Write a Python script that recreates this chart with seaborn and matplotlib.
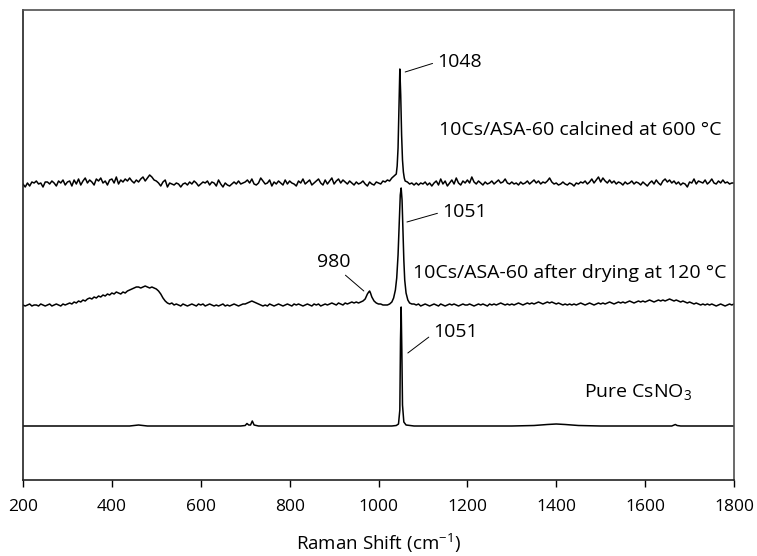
import matplotlib
matplotlib.use("Agg")
import matplotlib.pyplot as plt
import seaborn as sns

# Raman spectra, stacked (intensity values include the vertical offset used in the figure)

# 10Cs/ASA-60 calcined at 600 °C
calcined_x = list(range(200, 1040, 5)) + [1040, 1042, 1044, 1046, 1048, 1050, 1052, 1054, 1056, 1058, 1060] + list(range(1065, 1805, 5))
calcined_y = [
    296, 293, 297, 294, 298, 297, 299, 296, 297, 293, 298, 298, 296, 299, 297, 294, 299, 297, 300, 295,
    298, 299, 294, 300, 296, 301, 295, 299, 302, 297, 300, 298, 295, 301, 299, 302, 297, 299, 295, 300,
    301, 297, 303, 296, 300, 298, 301, 299, 302, 299, 297, 300, 298, 301, 303, 299, 302, 305, 303, 300,
    299, 297, 294, 298, 300, 293, 297, 296, 295, 297, 296, 293, 296, 297, 295, 298, 296, 299, 297, 294,
    296, 298, 297, 299, 295, 298, 297, 294, 300, 296, 293, 297, 295, 294, 296, 298, 296, 299, 296, 297,
    298, 300, 297, 301, 296, 295, 297, 302, 299, 296, 297, 300, 294, 298, 296, 299, 297, 295, 300, 296,
    299, 297, 296, 294, 299, 297, 301, 296, 298, 300, 295, 297, 299, 301, 297, 295, 300, 296, 299, 302,
    296, 299, 301, 297, 300, 298, 296, 299, 297, 295, 298, 296, 297, 299, 296, 294, 298, 296, 295, 298,
    297, 296, 299, 298, 300, 299, 302, 304,
    306, 314, 332, 370, 411, 385, 345, 320, 308, 302, 299,
    298, 296, 297, 295, 297, 295, 297,
    296, 298, 295, 297, 294, 297, 299, 295, 301, 296, 299, 294, 297, 300, 296, 302, 297, 295, 299, 297,
    300, 297, 303, 298, 296, 299, 297, 295, 298, 296, 297, 299, 296, 298, 300, 297, 298, 301, 297, 296,
    298, 296, 297, 295, 298, 296, 297, 299, 296, 298, 300, 297, 299, 296, 298, 297, 299, 302, 298, 296,
    297, 295, 296, 298, 296, 295, 297, 296, 294, 297, 296, 298, 297, 299, 296, 298, 301, 297, 300, 303,
    298, 302, 299, 297, 300, 297, 299, 296, 298, 297, 295, 298, 296, 297, 299, 296, 298, 297, 295, 298,
    296, 294, 297, 299, 296, 300, 297, 295, 299, 301, 298, 300, 297, 299, 296, 298, 295, 297, 296, 293,
    298, 297, 301, 296, 299, 298, 297, 300, 296, 298, 301, 297, 296, 299, 297, 300, 297, 298, 296, 297,
    297,
]

# 10Cs/ASA-60 after drying at 120 °C
dried_x = list(range(200, 960, 5)) + [960, 965, 970, 975, 978, 980, 982, 985, 990, 995, 1000, 1005, 1010, 1015, 1020, 1025,
                                      1030, 1034, 1038, 1041, 1044, 1047, 1049, 1051, 1053, 1055, 1057, 1059, 1062, 1066,
                                      1070, 1075] + list(range(1080, 1805, 5))
dried_y = [
    175, 174, 175, 176, 174, 175, 175, 174, 176, 175, 174, 175, 176, 174, 175, 176, 175, 174, 176, 175,
    176, 177, 176, 178, 177, 179, 178, 180, 179, 181, 182, 181, 183, 182, 184, 183, 185, 184, 186, 185,
    187, 186, 188, 187, 186, 188, 187, 189, 190, 191, 192, 193, 193, 192, 193, 194, 193, 192, 193, 192,
    191, 189, 186, 182, 179, 177, 176, 177, 175, 176, 175, 174, 176, 175, 174, 175, 176, 175, 174, 176,
    175, 176, 174, 175, 176, 175, 174, 175, 174, 175, 176, 174, 175, 174, 175, 176, 175, 174, 175, 176,
    176, 177, 178, 179, 178, 177, 176, 175, 174, 175, 174, 176, 175, 174, 175, 176, 175, 174, 175, 176,
    175, 174, 176, 175, 176, 175, 174, 175, 176, 175, 174, 176, 175, 176, 174, 175, 176, 175, 176, 177,
    176, 175, 177, 176, 175, 177, 176, 177, 178, 177, 178, 177,
    178, 179, 181, 186, 188, 189, 187, 183, 179, 177, 176, 176, 175, 175, 175, 176,
    178, 182, 190, 202, 225, 262, 285, 292, 280, 250, 220, 200, 187, 180,
    177, 176,
    176, 175, 176, 174, 175, 176, 175, 174, 175, 176, 175, 174, 176, 175, 174, 175, 176, 175, 176, 175,
    174, 175, 176, 175,
    175, 176, 175, 174, 175, 176, 175, 176, 175, 174, 176, 175, 176, 175, 176, 177, 176, 175, 176, 175,
    176, 175, 176, 177, 176, 175, 176, 177, 176, 177, 176, 177, 178, 177, 176, 177, 178, 177, 178, 177,
    176, 177, 176, 175, 176, 175, 176, 175, 176, 175, 176, 177, 176, 175, 176, 177, 176, 175, 176, 177,
    176, 177, 176, 177, 178, 177, 176, 177, 178, 177, 178, 177, 178, 179, 178, 177, 178, 179, 178, 179,
    178, 179, 180, 179, 178, 179, 180, 179, 180, 179, 180, 181, 180, 179, 180, 179, 178, 179, 178, 177,
    178, 177, 176, 177, 176, 175, 176, 175, 176, 175, 176, 175, 174, 175, 176, 175, 174, 175, 176, 175,
    176,
]

# Pure CsNO3
csno3_x = [200, 300, 400, 440, 460, 480, 520, 600, 690, 700, 704, 708, 712, 716, 720, 730, 800, 900, 1000, 1030,
           1040, 1045, 1048, 1049.5, 1051, 1052.5, 1054, 1057, 1062, 1080, 1200, 1300, 1350, 1380, 1400, 1420,
           1450, 1500, 1600, 1660, 1668, 1672, 1680, 1800]
csno3_y = [54, 54, 54, 54, 55, 54, 54, 54, 54, 54.5, 56.5, 55, 55, 59, 55, 54, 54, 54, 54, 54,
           54.5, 56, 70, 140, 173, 130, 75, 58, 55, 54, 54, 54, 54.5, 55.5, 56, 55.5,
           54.5, 54, 54, 54, 55.5, 54.5, 54, 54]

x_ticks = [200, 400, 600, 800, 1000, 1200, 1400, 1600, 1800]

sns.set_style("ticks")
plt.rcParams["font.family"] = ["Open Sans", "DejaVu Sans"]
plt.rcParams["mathtext.fontset"] = "custom"
plt.rcParams["mathtext.rm"] = "Open Sans"
plt.rcParams["mathtext.it"] = "Open Sans:italic"
plt.rcParams["mathtext.default"] = "regular"
plt.rcParams["text.color"] = "black"
plt.rcParams["axes.labelcolor"] = "black"

fig = plt.figure(figsize=(7.57, 5.56), dpi=100)
ax = fig.add_axes([23 / 757, 76 / 556, 711 / 757, 470 / 556])

for xs, ys in [(calcined_x, calcined_y), (dried_x, dried_y), (csno3_x, csno3_y)]:
    sns.lineplot(x=xs, y=ys, color="black", linewidth=1.1, estimator=None, ax=ax)

ax.set_xlim(200, 1800)
ax.set_ylim(0, 470)
ax.set_xticks(x_ticks)
ax.set_yticks([])
ax.tick_params(axis="x", direction="out", length=5, width=1, pad=8.5, labelsize=12.5,
               colors="black", labelcolor="black")
ax.set_xlabel("Raman Shift (cm$^{-1}$)", fontsize=13.5, labelpad=12, color="black")

for side in ["left", "bottom"]:
    ax.spines[side].set_color("#222222")
    ax.spines[side].set_linewidth(1.2)
for side in ["top", "right"]:
    ax.spines[side].set_color("#505050")
    ax.spines[side].set_linewidth(1.2)

lead = dict(arrowstyle="-", color="black", lw=0.7, shrinkA=1, shrinkB=0)
fs = 14

ax.annotate("1048", xy=(1060, 408), xytext=(1132, 413), ha="left", va="baseline", fontsize=fs,
            color="black", arrowprops=dict(lead, relpos=(0, 0.5)))
ax.annotate("1051", xy=(1064, 258), xytext=(1143, 263), ha="left", va="baseline", fontsize=fs,
            color="black", arrowprops=dict(lead, relpos=(0, 0.5)))
ax.annotate("980", xy=(967, 189), xytext=(900, 213), ha="center", va="baseline", fontsize=fs,
            color="black", arrowprops=dict(lead, relpos=(0.6, 0.15)))
ax.annotate("1051", xy=(1066, 127), xytext=(1123, 143), ha="left", va="baseline", fontsize=fs,
            color="black", arrowprops=dict(lead, relpos=(0, 0.4)))

ax.text(1136, 345, "10Cs/ASA-60 calcined at 600 °C", ha="left", va="baseline", fontsize=fs, color="black")
ax.text(1077, 202, "10Cs/ASA-60 after drying at 120 °C", ha="left", va="baseline", fontsize=fs, color="black")
ax.text(1462, 83, "Pure CsNO$_3$", ha="left", va="baseline", fontsize=fs, color="black")

fig.savefig("out.png", dpi=100)
